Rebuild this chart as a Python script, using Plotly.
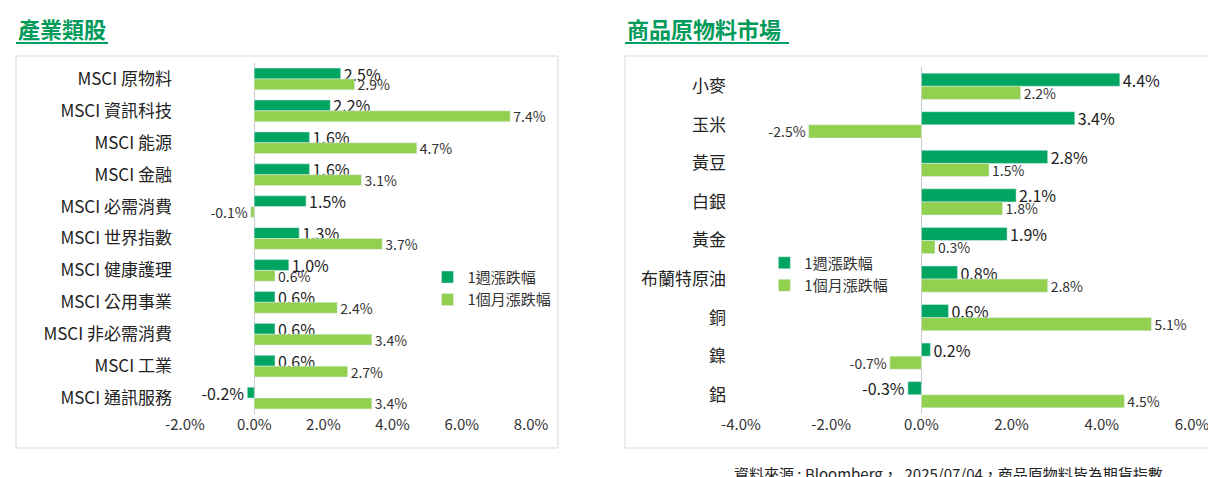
import plotly.graph_objects as go

# 產業類股
sector_names = ["MSCI 原物料", "MSCI 資訊科技", "MSCI 能源", "MSCI 金融", "MSCI 必需消費",
                "MSCI 世界指數", "MSCI 健康護理", "MSCI 公用事業", "MSCI 非必需消費",
                "MSCI 工業", "MSCI 通訊服務"]
sector_week = [2.5, 2.2, 1.6, 1.6, 1.5, 1.3, 1.0, 0.6, 0.6, 0.6, -0.2]
sector_month = [2.9, 7.4, 4.7, 3.1, -0.1, 3.7, 0.6, 2.4, 3.4, 2.7, 3.4]

# 商品原物料市場
comm_names = ["小麥", "玉米", "黃豆", "白銀", "黃金", "布蘭特原油", "銅", "鎳", "鋁"]
comm_week = [4.4, 3.4, 2.8, 2.1, 1.9, 0.8, 0.6, 0.2, -0.3]
comm_month = [2.2, -2.5, 1.5, 1.8, 0.3, 2.8, 5.1, -0.7, 4.5]

left_ticks = [-2, 0, 2, 4, 6, 8]
right_ticks = [-4, -2, 0, 2, 4, 6]

DARK = "#00A562"
LIGHT = "#92D050"
FONT = "Noto Sans CJK TC, Noto Sans, sans-serif"

fig = go.Figure()


def pct(v):
    return [f"{x:.1f}%" for x in v]


def add_pair(names, week, month, xa, ya, lg):
    fig.add_trace(go.Bar(y=names, x=week, orientation="h", name="1週漲跌幅",
                         marker_color=DARK, text=pct(week), textposition="outside",
                         constraintext="none", textfont=dict(size=16, color="#222"),
                         cliponaxis=False, xaxis=xa, yaxis=ya, legend=lg))
    fig.add_trace(go.Bar(y=names, x=month, orientation="h", name="1個月漲跌幅",
                         marker_color=LIGHT, text=pct(month), textposition="outside",
                         constraintext="none", textfont=dict(size=14, color="#333"),
                         cliponaxis=False, xaxis=xa, yaxis=ya, legend=lg))


add_pair(sector_names, sector_week, sector_month, "x", "y", "legend")
add_pair(comm_names, comm_week, comm_month, "x2", "y2", "legend2")

axis_common = dict(showgrid=False, zeroline=True, zerolinecolor="#c8c8c8", automargin=False,
                   zerolinewidth=1, tickfont=dict(size=15, color="#333"), showline=False)

fig.update_layout(
    width=1216, height=477, margin=dict(l=0, r=0, t=0, b=0, autoexpand=False),
    paper_bgcolor="white", plot_bgcolor="white",
    font=dict(family=FONT),
    barmode="group", bargap=0.32, bargroupgap=0,
    xaxis=dict(domain=[177 / 1216, 523 / 1216], range=[-2, 8], tickvals=left_ticks,
               ticktext=[f"{t:.1f}%" for t in left_ticks], anchor="y", **axis_common),
    yaxis=dict(domain=[1 - 406 / 477, 1 - 55 / 477], autorange="reversed", automargin=False,
               tickfont=dict(size=17, color="#222"), ticks="", ticklabelstandoff=12),
    xaxis2=dict(domain=[733 / 1216, 1184 / 1216], range=[-4, 6], tickvals=right_ticks,
                ticktext=[f"{t:.1f}%" for t in right_ticks], anchor="y2", **axis_common),
    yaxis2=dict(domain=[1 - 406 / 477, 1 - 59 / 477], autorange="reversed", anchor="x2",
                automargin=False, tickfont=dict(size=17, color="#222"), ticks="",
                ticklabelstandoff=14),
    legend=dict(x=0.345, y=0.47, xanchor="left", yanchor="top", font=dict(size=15, color="#333"),
                bgcolor="rgba(0,0,0,0)", itemwidth=30),
    legend2=dict(x=0.622, y=0.50, xanchor="left", yanchor="top", font=dict(size=15, color="#333"),
                 bgcolor="rgba(0,0,0,0)", itemwidth=30),
    shapes=[
        dict(type="rect", xref="paper", yref="paper", x0=8 / 1216, x1=550 / 1216,
             y0=1 - 440 / 477, y1=1 - 48 / 477, line=dict(color="#d9d9d9", width=1)),
        dict(type="rect", xref="paper", yref="paper", x0=617 / 1216, x1=1213 / 1216,
             y0=1 - 440 / 477, y1=1 - 48 / 477, line=dict(color="#d9d9d9", width=1)),
        dict(type="line", xref="paper", yref="paper", x0=8 / 1216, x1=100 / 1216,
             y0=1 - 35 / 477, y1=1 - 35 / 477, line=dict(color="#00A060", width=2)),
        dict(type="line", xref="paper", yref="paper", x0=617 / 1216, x1=781 / 1216,
             y0=1 - 35 / 477, y1=1 - 35 / 477, line=dict(color="#00A060", width=2)),
    ],
    annotations=[
        dict(text="<b>產業類股</b>", xref="paper", yref="paper", x=8 / 1216, y=1 - 20 / 477,
             xanchor="left", yanchor="middle", showarrow=False, font=dict(size=22, color="#009A5A")),
        dict(text="<b>商品原物料市場</b>", xref="paper", yref="paper", x=617 / 1216, y=1 - 20 / 477,
             xanchor="left", yanchor="middle", showarrow=False, font=dict(size=22, color="#009A5A")),
        dict(text="資料來源 : Bloomberg，  2025/07/04，商品原物料皆為期貨指數", xref="paper", yref="paper",
             x=1157 / 1216, y=1 - 465 / 477, xanchor="right", yanchor="middle", showarrow=False,
             font=dict(size=15, color="#222")),
    ],
)

fig.write_html("out.html")
